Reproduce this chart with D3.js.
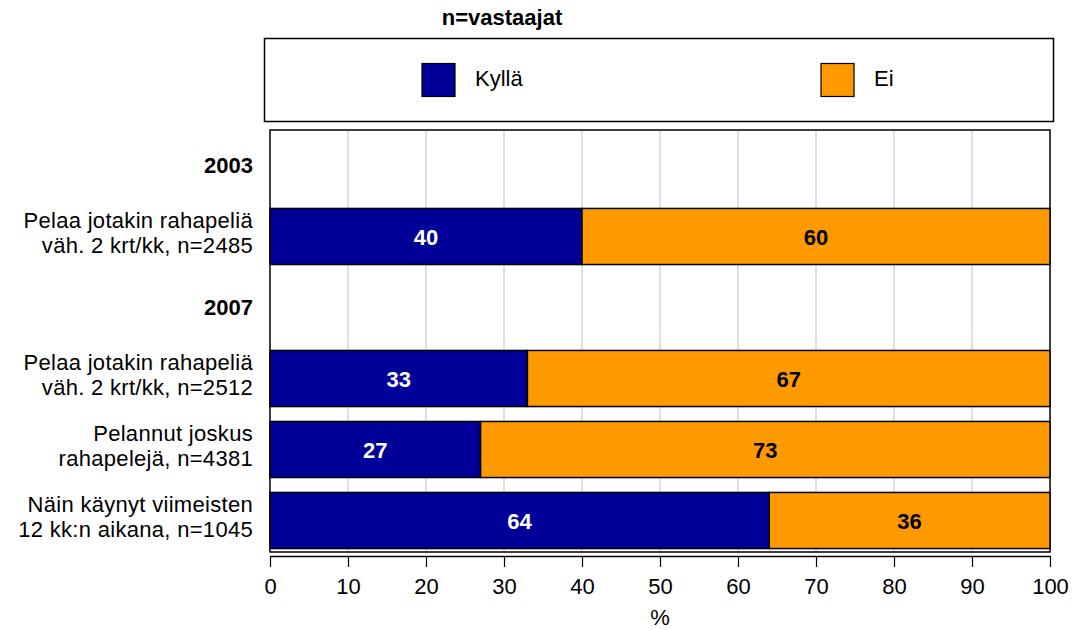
<!DOCTYPE html>
<html><head><meta charset="utf-8">
<script src="https://cdn.jsdelivr.net/npm/d3@7"></script>
<style>body{margin:0;background:#fff;} text{font-family:Arial,"Liberation Sans",sans-serif;}</style>
</head><body>
<svg id="c" width="1083" height="630"></svg>
<script>
const rows = ["2003", "r1", "2007", "r2", "r3", "r4"];
const rowLabels = [["2003"], ["Pelaa jotakin rahapeliä", "väh. 2 krt/kk, n=2485"], ["2007"], ["Pelaa jotakin rahapeliä", "väh. 2 krt/kk, n=2512"], ["Pelannut joskus", "rahapelejä, n=4381"], ["Näin käynyt viimeisten", "12 kk:n aikana, n=1045"]];
const headerRows = ["2003", "2007"];
const kylla = [null, 40, null, 33, 27, 64];
const ei = [null, 60, null, 67, 73, 36];
const seriesNames = ["Kyllä", "Ei"];
const colors = ["#000099", "#FF9900"];
const ticks = [0,10,20,30,40,50,60,70,80,90,100];

const svg = d3.select("#c");
const L = 270, R = 1050, T = 130, B = 556;
const FS = 22;
const x = d3.scaleLinear().domain([0,100]).range([L,R]);
const y = d3.scaleBand().domain(rows).range([T,B]).paddingInner(0.21).paddingOuter(0.105);

// title
svg.append("text").attr("x",502).attr("y",25).attr("text-anchor","middle")
  .attr("font-size",22).attr("font-weight","bold").text("n=vastaajat");

// legend
svg.append("rect").attr("x",264.5).attr("y",38.5).attr("width",789).attr("height",83)
  .attr("fill","#fff").attr("stroke","#000").attr("stroke-width",1.5);
const legX = [422, 821];
seriesNames.forEach((n,i)=>{
  svg.append("rect").attr("x",legX[i]).attr("y",63.5).attr("width",33).attr("height",33)
    .attr("fill",colors[i]).attr("stroke","#000").attr("stroke-width",1.2);
  svg.append("text").attr("x",legX[i]+53).attr("y",86).attr("font-size",FS).text(n);
});

// gridlines
svg.append("g").selectAll("line").data(ticks.slice(1,-1)).join("line")
  .attr("x1",d=>x(d)).attr("x2",d=>x(d)).attr("y1",T).attr("y2",553)
  .attr("stroke","#c0c0c0").attr("stroke-width",1);

// plot border
svg.append("rect").attr("x",L).attr("y",T).attr("width",R-L).attr("height",552-T)
  .attr("fill","none").attr("stroke","#000").attr("stroke-width",1.5);

// bars
const data = rows.map((r,i)=>({r, k:kylla[i], e:ei[i]})).filter(d=>d.k!==null);
const bh = y.bandwidth();
data.forEach(d=>{
  svg.append("rect").attr("x",x(0)).attr("y",y(d.r)).attr("width",x(d.k)-x(0)).attr("height",bh)
    .attr("fill",colors[0]).attr("stroke","#000").attr("stroke-width",1.5);
  svg.append("rect").attr("x",x(d.k)).attr("y",y(d.r)).attr("width",x(d.k+d.e)-x(d.k)).attr("height",bh)
    .attr("fill",colors[1]).attr("stroke","#000").attr("stroke-width",1.5);
  svg.append("text").attr("x",(x(0)+x(d.k))/2).attr("y",y(d.r)+bh/2+8).attr("text-anchor","middle")
    .attr("font-size",22).attr("font-weight","bold").attr("fill","#fff").text(d.k);
  svg.append("text").attr("x",(x(d.k)+x(d.k+d.e))/2).attr("y",y(d.r)+bh/2+8).attr("text-anchor","middle")
    .attr("font-size",22).attr("font-weight","bold").attr("fill","#000").text(d.e);
});

// row labels
rows.forEach((r,i)=>{
  const cy = y(r)+bh/2;
  const lines = rowLabels[i];
  const isH = headerRows.includes(r);
  const t = svg.append("text").attr("text-anchor","end").attr("font-size",FS)
    .attr("font-weight",isH?"bold":"normal").attr("letter-spacing", isH?0:0.3);
  lines.forEach((ln,j)=>{
    t.append("tspan").attr("x",253).attr("y",cy + (lines.length>1?3.5:7.5) + (j-(lines.length-1)/2)*25).text(ln);
  });
});

// x axis
const ax = svg.append("g").attr("transform",`translate(0,556)`)
  .call(d3.axisBottom(x).tickValues(ticks).tickSize(11).tickSizeOuter(0).tickPadding(11));
ax.select(".domain").attr("stroke","#000").attr("stroke-width",1.5);
ax.selectAll(".tick line").attr("stroke","#000").attr("stroke-width",1.2);
ax.selectAll(".tick text").attr("font-size",FS).attr("fill","#000")
  .attr("font-family","Arial, 'Liberation Sans', sans-serif");
svg.append("text").attr("x",x(50)).attr("y",625).attr("text-anchor","middle").attr("font-size",FS).text("%");
</script>
</body></html>
